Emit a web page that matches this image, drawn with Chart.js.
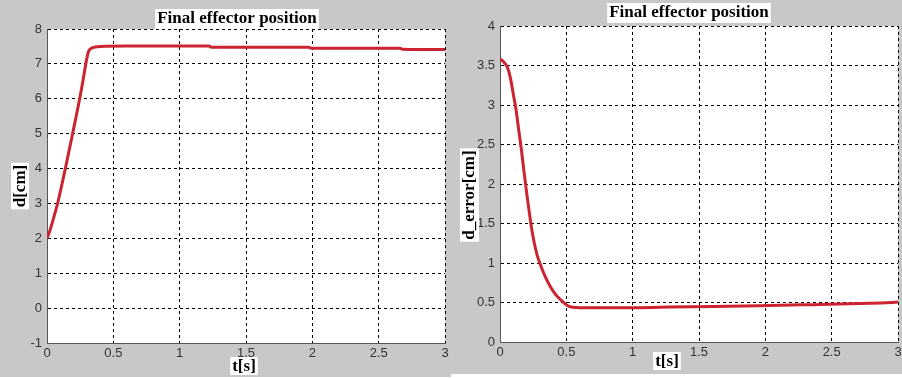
<!DOCTYPE html>
<html>
<head>
<meta charset="utf-8">
<script src="https://cdn.jsdelivr.net/npm/chart.js@4/dist/chart.umd.min.js"></script>
<style>
  html, body { margin: 0; padding: 0; background: #fff; }
  #wrap { position: relative; width: 902px; height: 378px; overflow: hidden; }
  #leftPanel { position: absolute; left: 0; top: 0; width: 451px; height: 377px; background: #c8c8c8; }
  #rightPanel { position: absolute; left: 451px; top: 0; width: 451px; height: 374px; background: #c8c8c8; }
  canvas { position: absolute; left: 0; top: 0; }
</style>
</head>
<body>
<div id="wrap">
  <div id="leftPanel"><canvas id="posChart" width="451" height="377"></canvas></div>
  <div id="rightPanel"><canvas id="errChart" width="451" height="374"></canvas></div>
</div>
<script>
// left plot: effector position d [cm] over time t [s]
const timeD = [0, 0.02, 0.04, 0.06, 0.08, 0.10, 0.12, 0.14, 0.16, 0.18, 0.20, 0.22, 0.24, 0.26, 0.28, 0.29, 0.30, 0.31, 0.32, 0.34, 0.37, 0.40, 0.6, 1.0, 1.22, 1.24, 1.6, 1.97, 1.99, 2.3, 2.66, 2.68, 3.0];
const posD  = [2.0, 2.2, 2.45, 2.72, 3.0, 3.33, 3.68, 4.03, 4.4, 4.76, 5.13, 5.5, 5.88, 6.28, 6.72, 6.95, 7.15, 7.32, 7.40, 7.46, 7.49, 7.5, 7.51, 7.51, 7.51, 7.48, 7.48, 7.48, 7.45, 7.45, 7.45, 7.42, 7.41];

// right plot: position error d_error [cm] over time t [s]
const timeE = [0, 0.02, 0.04, 0.06, 0.08, 0.10, 0.12, 0.14, 0.16, 0.18, 0.20, 0.22, 0.24, 0.26, 0.28, 0.30, 0.34, 0.38, 0.42, 0.46, 0.50, 0.52, 0.55, 0.6, 1.0, 1.21, 1.61, 1.96, 2.27, 2.56, 2.87, 3.0];
const errE  = [3.58, 3.56, 3.52, 3.46, 3.33, 3.14, 2.95, 2.7, 2.45, 2.17, 1.9, 1.65, 1.42, 1.24, 1.1, 1.0, 0.83, 0.7, 0.6, 0.53, 0.47, 0.45, 0.44, 0.435, 0.435, 0.44, 0.45, 0.46, 0.47, 0.48, 0.495, 0.505];

const titleText = 'Final effector position';
const xLabel = 't[s]';
const yLabelD = 'd[cm]';
const yLabelE = 'd_error[cm]';

const toPoints = (xs, ys) => xs.map((x, i) => ({x: x, y: ys[i]}));
// matlab style: 1 not 1.0
const fmt = v => String(+Number(v).toFixed(2));

// white plot area + matlab style labels with white boxes behind
const matlabDecor = {
  id: 'matlabDecor',
  beforeDraw(chart) {
    const a = chart.chartArea;
    const ctx = chart.ctx;
    ctx.save();
    ctx.fillStyle = '#fff';
    ctx.fillRect(a.left, a.top, a.right - a.left, a.bottom - a.top);
    ctx.restore();
  },
  afterDraw(chart) {
    const o = chart.options.plugins.matlabDecor;
    const ctx = chart.ctx;
    ctx.save();
    ctx.font = 'bold 17px "Liberation Serif", "Times New Roman", serif';
    ctx.textAlign = 'center';
    ctx.textBaseline = 'alphabetic';
    const label = (text, x, y, rot) => {
      ctx.save();
      ctx.translate(x, y);
      if (rot) ctx.rotate(-Math.PI / 2);
      const m = ctx.measureText(text);
      ctx.fillStyle = '#fff';
      ctx.fillRect(-m.width / 2 - 2, -m.actualBoundingBoxAscent - 2, m.width + 4,
        m.actualBoundingBoxAscent + m.actualBoundingBoxDescent + 4);
      ctx.fillStyle = '#000';
      ctx.fillText(text, 0, 0);
      ctx.restore();
    };
    label(o.title, o.titlePos[0], o.titlePos[1], false);
    label(o.xTitle, o.xPos[0], o.xPos[1], false);
    label(o.yTitle, o.yPos[0], o.yPos[1], true);
    ctx.restore();
  }
};

function makeChart(id, xs, ys, yMin, yMax, yStep, pad, yWidth, xHeight, decor) {
  const tickFont = {family: '"Liberation Sans", Arial, sans-serif', size: 13};
  return new Chart(document.getElementById(id), {
    type: 'scatter',
    data: {
      datasets: [{
        data: toPoints(xs, ys),
        showLine: true,
        borderColor: '#cc2331',
        borderWidth: 3,
        pointRadius: 0,
        cubicInterpolationMode: 'monotone',
        fill: false
      }]
    },
    options: {
      responsive: false,
      animation: false,
      layout: {padding: pad},
      plugins: {
        legend: {display: false},
        tooltip: {enabled: false},
        matlabDecor: decor
      },
      scales: {
        x: {
          type: 'linear',
          min: 0, max: 3,
          afterFit: s => { s.height = xHeight; s.paddingRight = 0; s.paddingLeft = 0; },
          ticks: {stepSize: 0.5, color: '#333', font: tickFont, padding: 3, maxRotation: 0, callback: fmt},
          grid: {color: '#000', lineWidth: 1, drawTicks: false},
          border: {display: true, color: '#555', width: 1, dash: [3, 3]}
        },
        y: {
          min: yMin, max: yMax,
          afterFit: s => { s.width = yWidth; },
          ticks: {stepSize: yStep, color: '#333', font: tickFont, padding: 5, callback: fmt},
          grid: {color: '#000', lineWidth: 1, drawTicks: false},
          border: {display: true, color: '#555', width: 1, dash: [3, 3]}
        }
      }
    },
    plugins: [matlabDecor]
  });
}

makeChart('posChart', timeD, posD, -1, 8, 1,
  {top: 29, right: 6, bottom: 0, left: 0}, 47, 34,
  {title: titleText, titlePos: [237, 23], xTitle: xLabel, xPos: [244, 371], yTitle: yLabelD, yPos: [25, 186]});

makeChart('errChart', timeE, errE, 0, 4, 0.5,
  {top: 26, right: 4, bottom: 0, left: 0}, 49, 32,
  {title: titleText, titlePos: [238, 17], xTitle: xLabel, xPos: [216, 366], yTitle: yLabelE, yPos: [23, 195]});
</script>
</body>
</html>
